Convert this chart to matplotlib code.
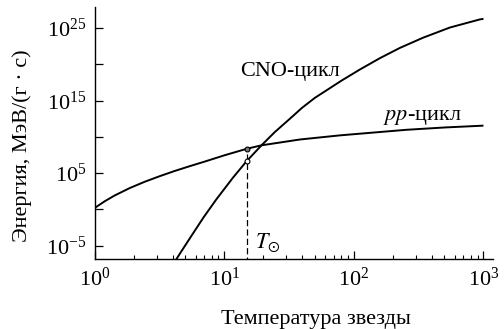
import numpy as np
import matplotlib
matplotlib.use("Agg")
import matplotlib.pyplot as plt
from matplotlib.ticker import FixedLocator, LogLocator, NullFormatter

plt.rcParams["font.family"] = ["Liberation Serif", "DejaVu Serif"]
plt.rcParams["mathtext.fontset"] = "stix"

# pp-chain energy release: log10 of temperature and log10 of energy, MeV/(g*s)
pp_logT = [0.0, 0.077, 0.154, 0.270, 0.386, 0.502, 0.618, 0.734, 0.849, 1.004,
           1.171, 1.287, 1.583, 1.892, 2.407, 2.703, 3.0]
pp_logE = [0.20, 1.12, 1.92, 2.94, 3.81, 4.58, 5.30, 5.96, 6.59, 7.47,
           8.34, 8.83, 9.63, 10.20, 10.97, 11.29, 11.54]

# CNO-cycle energy release
cno_logT = [0.616, 0.662, 0.749, 0.842, 0.940, 1.068, 1.171, 1.287, 1.390, 1.506,
            1.600, 1.699, 1.905, 2.046, 2.201, 2.355, 2.533, 2.741, 2.973, 3.0]
cno_logE = [-7.25, -5.96, -3.57, -1.04, 1.42, 4.40, 6.62, 8.83, 10.66, 12.49,
            14.0, 15.37, 17.75, 19.27, 20.84, 22.25, 23.65, 25.06, 26.18, 26.25]

# Solar core temperature and the two rates there
T_sun = 15.0
logE_pp_sun = 8.34
logE_cno_sun = 6.62

pp_T = 10.0 ** np.array(pp_logT)
pp_E = 10.0 ** np.array(pp_logE)
cno_T = 10.0 ** np.array(cno_logT)
cno_E = 10.0 ** np.array(cno_logE)

fig = plt.figure(figsize=(5.04, 3.29), dpi=100)
ax = fig.add_axes([0.188, 0.212, 0.79, 0.767])

ax.plot(pp_T, pp_E, color="black", lw=1.4, solid_capstyle="butt")
ax.plot(cno_T, cno_E, color="black", lw=1.4, solid_capstyle="butt")

ax.plot([T_sun, T_sun], [1e-10, 10.0 ** logE_pp_sun], color="black", lw=0.9,
        linestyle=(0, (5, 2.5)))
ax.plot([T_sun], [10.0 ** logE_pp_sun], marker="o", ms=3.5, mfc="#777777",
        mec="black", mew=0.8)
ax.plot([T_sun], [10.0 ** logE_cno_sun], marker="o", ms=3.5, mfc="white",
        mec="black", mew=0.8)

ax.set_xscale("log")
ax.set_yscale("log")
ax.set_xlim(1, 10 ** 3.073)
ax.set_ylim(10 ** -6.87, 10 ** 27.9)

ax.spines["top"].set_visible(False)
ax.spines["right"].set_visible(False)
for s in ("left", "bottom"):
    ax.spines[s].set_linewidth(1.0)

ax.yaxis.set_major_locator(FixedLocator([1e-5, 1e5, 1e15, 1e25]))
ax.yaxis.set_minor_locator(FixedLocator([1e0, 1e10, 1e20]))
ax.yaxis.set_minor_formatter(NullFormatter())
ax.xaxis.set_major_locator(LogLocator(base=10, numticks=10))
ax.xaxis.set_minor_locator(LogLocator(base=10, subs=np.arange(2, 10), numticks=20))
ax.xaxis.set_minor_formatter(NullFormatter())

ax.tick_params(axis="both", which="major", direction="in", length=6, width=0.9,
               labelsize=16, pad=6)
ax.tick_params(axis="y", which="minor", direction="in", length=6, width=0.9)
ax.tick_params(axis="x", which="minor", direction="in", length=3, width=0.8)

ax.set_xlabel("Температура звезды", fontsize=16)
ax.set_ylabel("Энергия, МэВ/(г · с)", fontsize=16)
ax.xaxis.set_label_coords(0.556, -0.20)
ax.yaxis.set_label_coords(-0.158, 0.45)

ax.text(10 ** 1.12, 10 ** 19.0, "CNO-цикл", fontsize=16, ha="left", va="center")
ax.text(10 ** 2.224, 10 ** 12.6, "$pp$-цикл", fontsize=16, ha="left", va="center")
ax.text(10 ** 1.24, 10 ** -4.6, r"$T_{\odot}$", fontsize=16, ha="left", va="center")

fig.savefig("out.png", dpi=100)
